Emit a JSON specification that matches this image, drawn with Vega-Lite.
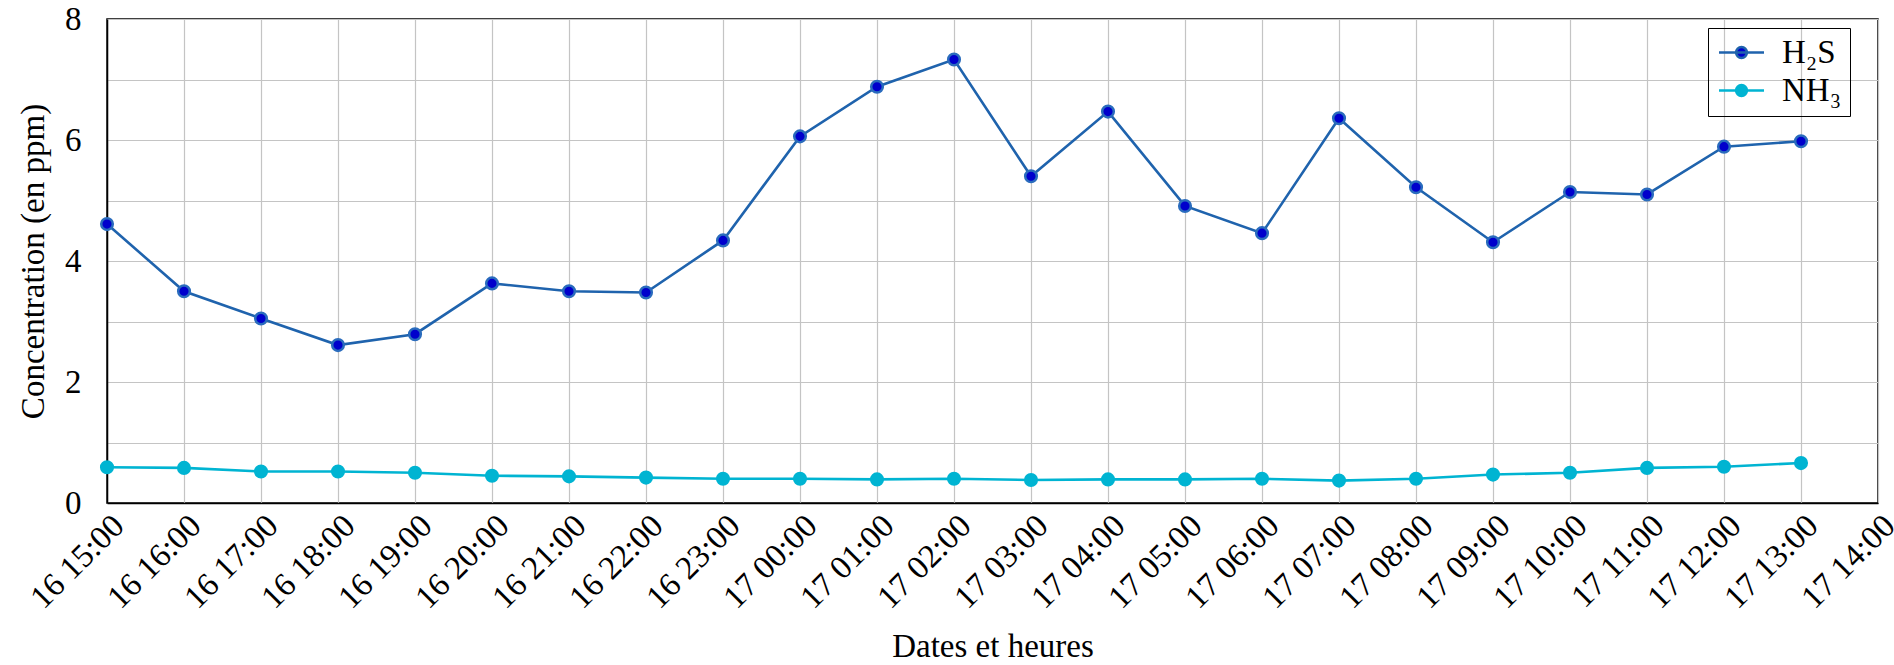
{
  "$schema": "https://vega.github.io/schema/vega-lite/v6.json",
  "autosize": {"type": "none"},
  "width": 1771,
  "height": 484,
  "padding": {"left": 107, "top": 19, "right": 16, "bottom": 162},
  "background": "white",
  "config": {
    "font": "Liberation Serif",
    "view": {"stroke": "black", "strokeWidth": 1.5},
    "axis": {
      "labelFont": "Liberation Serif",
      "titleFont": "Liberation Serif",
      "labelFontSize": 33,
      "titleFontSize": 33,
      "titleFontWeight": "normal",
      "labelColor": "black",
      "titleColor": "black",
      "domainColor": "black",
      "domainWidth": 1.5,
      "gridColor": "#c4c4c4",
      "gridWidth": 1.2,
      "gridOpacity": 1,
      "ticks": false
    },
    "legend": {"labelFont": "Liberation Serif", "labelFontSize": 33, "labelColor": "black"}
  },
  "data": {
    "values": [
      {"t": "2024-01-16T15:00:00", "s": "H₂S", "v": 4.61},
      {"t": "2024-01-16T16:00:00", "s": "H₂S", "v": 3.50},
      {"t": "2024-01-16T17:00:00", "s": "H₂S", "v": 3.05},
      {"t": "2024-01-16T18:00:00", "s": "H₂S", "v": 2.61},
      {"t": "2024-01-16T19:00:00", "s": "H₂S", "v": 2.79},
      {"t": "2024-01-16T20:00:00", "s": "H₂S", "v": 3.63},
      {"t": "2024-01-16T21:00:00", "s": "H₂S", "v": 3.50},
      {"t": "2024-01-16T22:00:00", "s": "H₂S", "v": 3.48},
      {"t": "2024-01-16T23:00:00", "s": "H₂S", "v": 4.34},
      {"t": "2024-01-17T00:00:00", "s": "H₂S", "v": 6.06},
      {"t": "2024-01-17T01:00:00", "s": "H₂S", "v": 6.88},
      {"t": "2024-01-17T02:00:00", "s": "H₂S", "v": 7.33},
      {"t": "2024-01-17T03:00:00", "s": "H₂S", "v": 5.40},
      {"t": "2024-01-17T04:00:00", "s": "H₂S", "v": 6.47},
      {"t": "2024-01-17T05:00:00", "s": "H₂S", "v": 4.91},
      {"t": "2024-01-17T06:00:00", "s": "H₂S", "v": 4.46},
      {"t": "2024-01-17T07:00:00", "s": "H₂S", "v": 6.36},
      {"t": "2024-01-17T08:00:00", "s": "H₂S", "v": 5.22},
      {"t": "2024-01-17T09:00:00", "s": "H₂S", "v": 4.31},
      {"t": "2024-01-17T10:00:00", "s": "H₂S", "v": 5.14},
      {"t": "2024-01-17T11:00:00", "s": "H₂S", "v": 5.10},
      {"t": "2024-01-17T12:00:00", "s": "H₂S", "v": 5.89},
      {"t": "2024-01-17T13:00:00", "s": "H₂S", "v": 5.98},
      {"t": "2024-01-16T15:00:00", "s": "NH₃", "v": 0.59},
      {"t": "2024-01-16T16:00:00", "s": "NH₃", "v": 0.58},
      {"t": "2024-01-16T17:00:00", "s": "NH₃", "v": 0.52},
      {"t": "2024-01-16T18:00:00", "s": "NH₃", "v": 0.52},
      {"t": "2024-01-16T19:00:00", "s": "NH₃", "v": 0.50},
      {"t": "2024-01-16T20:00:00", "s": "NH₃", "v": 0.45},
      {"t": "2024-01-16T21:00:00", "s": "NH₃", "v": 0.44},
      {"t": "2024-01-16T22:00:00", "s": "NH₃", "v": 0.42},
      {"t": "2024-01-16T23:00:00", "s": "NH₃", "v": 0.40},
      {"t": "2024-01-17T00:00:00", "s": "NH₃", "v": 0.40},
      {"t": "2024-01-17T01:00:00", "s": "NH₃", "v": 0.39},
      {"t": "2024-01-17T02:00:00", "s": "NH₃", "v": 0.40},
      {"t": "2024-01-17T03:00:00", "s": "NH₃", "v": 0.38},
      {"t": "2024-01-17T04:00:00", "s": "NH₃", "v": 0.39},
      {"t": "2024-01-17T05:00:00", "s": "NH₃", "v": 0.39},
      {"t": "2024-01-17T06:00:00", "s": "NH₃", "v": 0.40},
      {"t": "2024-01-17T07:00:00", "s": "NH₃", "v": 0.37},
      {"t": "2024-01-17T08:00:00", "s": "NH₃", "v": 0.40},
      {"t": "2024-01-17T09:00:00", "s": "NH₃", "v": 0.47},
      {"t": "2024-01-17T10:00:00", "s": "NH₃", "v": 0.50},
      {"t": "2024-01-17T11:00:00", "s": "NH₃", "v": 0.58},
      {"t": "2024-01-17T12:00:00", "s": "NH₃", "v": 0.60},
      {"t": "2024-01-17T13:00:00", "s": "NH₃", "v": 0.66}
    ]
  },
  "encoding": {
    "x": {
      "field": "t",
      "type": "temporal",
      "title": "Dates et heures",
      "scale": {
        "domain": [
          {"year": 2024, "month": 1, "date": 16, "hours": 15},
          {"year": 2024, "month": 1, "date": 17, "hours": 14}
        ],
        "nice": false
      },
      "axis": {
        "format": "%d %H:%M",
        "labelAngle": -45,
        "labelPadding": 6,
        "labelDx": -6,
        "tickCount": 24,
        "labelOverlap": false,
        "labelFlush": false,
        "titlePadding": 16
      }
    },
    "y": {
      "field": "v",
      "type": "quantitative",
      "title": "Concentration (en ppm)",
      "scale": {"domain": [0, 8], "nice": false},
      "axis": {
        "values": [0, 1, 2, 3, 4, 5, 6, 7, 8],
        "labelExpr": "datum.value % 2 == 0 ? datum.label : ''",
        "labelPadding": 26,
        "titlePadding": 14
      }
    },
    "color": {
      "field": "s",
      "type": "nominal",
      "scale": {"domain": ["H₂S", "NH₃"], "range": ["#1f63ad", "#00b4d2"]},
      "legend": {
        "title": null,
        "orient": "none",
        "legendX": 1601,
        "legendY": 9,
        "symbolType": "M-1.5,0L1.5,0M0.36,0A0.36,0.36 0 1,1 -0.36,0A0.36,0.36 0 1,1 0.36,0Z",
        "symbolSize": 900,
        "symbolStrokeWidth": 2.5,
        "symbolOffset": 9,
        "rowPadding": 4,
        "labelOffset": 24,
        "padding": 8,
        "strokeColor": "black"
      }
    }
  },
  "layer": [
    {"mark": {"type": "line", "strokeWidth": 2.6}},
    {
      "mark": {"type": "point", "filled": true, "size": 135, "strokeWidth": 2.5, "opacity": 1},
      "encoding": {
        "fill": {
          "field": "s",
          "type": "nominal",
          "scale": {"domain": ["H₂S", "NH₃"], "range": ["#0000cc", "#00b4d2"]},
          "legend": null
        },
        "stroke": {
          "field": "s",
          "type": "nominal",
          "scale": {"domain": ["H₂S", "NH₃"], "range": ["#2a6cbd", "#00b4d2"]},
          "legend": null
        }
      }
    }
  ]
}
